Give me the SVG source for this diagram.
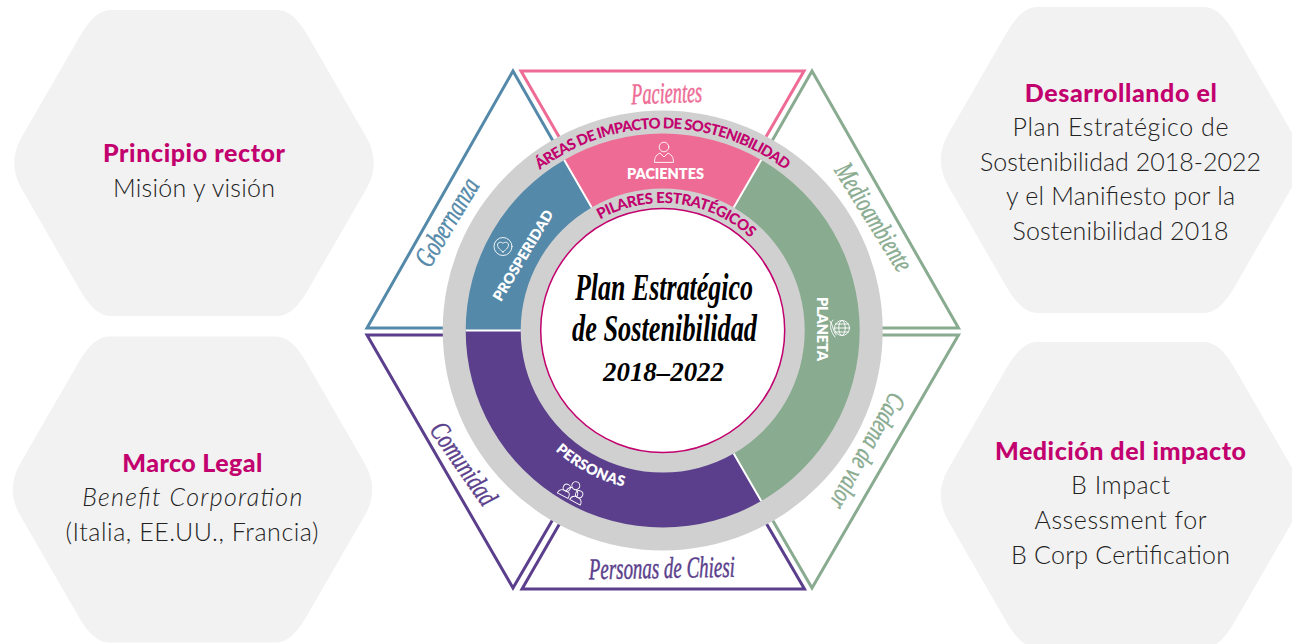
<svg xmlns="http://www.w3.org/2000/svg" width="1292" height="644" viewBox="0 0 1292 644">
<style>
.hex{fill:#f2f2f2}
.h{font-family:"Lato","Liberation Sans",sans-serif;font-weight:900;font-size:25px;fill:#c2006e;text-anchor:middle}
.b{font-family:"Lato","Liberation Sans",sans-serif;font-weight:300;font-size:25px;fill:#222;text-anchor:middle}
.tri{fill:#fff;stroke-width:3;stroke-linejoin:miter}
.s{font-family:"Liberation Serif",serif;font-style:italic;text-anchor:middle;stroke-width:.5}
.l{font-family:"Lato","Liberation Sans",sans-serif;font-weight:800;font-size:14.5px;fill:#fff;text-anchor:middle}
.arc{font-family:"Lato","Liberation Sans",sans-serif;font-weight:900;fill:#c2006e;text-anchor:middle}
.div{stroke:#fff;stroke-width:2;fill:none}
.ic{fill:none;stroke:#fff;stroke-width:.9;stroke-linejoin:round;stroke-linecap:round}
.t{font-family:"Liberation Serif",serif;font-style:italic;font-weight:700;fill:#000;text-anchor:middle}
</style>
<defs>
<path id="hx" d="M-84,-153 L84,-153 Q99,-153 114,-127 L172.25,-26 Q187.25,0 172.25,26 L114,127 Q99,153 84,153 L-84,153 Q-99,153 -114,127 L-172.25,26 Q-187.25,0 -172.25,-26 L-114,-127 Q-99,-153 -84,-153 Z"/>
<path id="arcAreas" d="M487.7,229.5 A202 202 0 0 1 837.7,229.5"/>
<path id="arcPilares" d="M560.9,253.8 A127.5 127.5 0 0 1 780.1,280.7"/>
<path id="arcPersonas" d="M513.4,390.8 A161 161 0 0 0 696.2,488"/>
</defs>

<g id="hex-principio">
<use href="#hx" x="194" y="163" class="hex"/>
<text class="h" x="194" y="162" textLength="182">Principio rector</text>
<text class="b" x="194" y="197" textLength="162">Misión y visión</text>
</g>
<g id="hex-marco">
<use href="#hx" x="192.5" y="489.5" class="hex"/>
<text class="h" x="192.3" y="472" textLength="140">Marco Legal</text>
<text class="b" x="192.3" y="506" font-style="italic" textLength="220">Benefit Corporation</text>
<text class="b" x="192" y="541" textLength="253">(Italia, EE.UU., Francia)</text>
</g>
<g id="hex-desarrollando">
<use href="#hx" x="1120.5" y="160" class="hex"/>
<text class="h" x="1120.8" y="102" textLength="192">Desarrollando el</text>
<text class="b" x="1120.5" y="136" textLength="216">Plan Estratégico de</text>
<text class="b" x="1120.5" y="171" textLength="281">Sostenibilidad 2018-2022</text>
<text class="b" x="1120.5" y="205" textLength="229">y el Manifiesto por la</text>
<text class="b" x="1120.5" y="240" textLength="216">Sostenibilidad 2018</text>
</g>
<g id="hex-medicion">
<use href="#hx" x="1120.5" y="495" class="hex"/>
<text class="h" x="1120.5" y="460" textLength="251">Medición del impacto</text>
<text class="b" x="1120.5" y="494" textLength="99">B Impact</text>
<text class="b" x="1120.5" y="529" textLength="172">Assessment for</text>
<text class="b" x="1120.5" y="564" textLength="219">B Corp Certification</text>
</g>

<g id="triangles">
<g id="tri-gobernanza">
<polygon class="tri" stroke="#5489a9" points="513,71 367,328 660,328"/>
<text class="s" fill="#5489a9" stroke="#5489a9" font-size="29" transform="translate(455,227) rotate(-59)" textLength="98" lengthAdjust="spacingAndGlyphs">Gobernanza</text>
</g>
<g id="tri-pacientes">
<polygon class="tri" stroke="#ee6b95" points="521,71 804,71 662.5,316"/>
<text class="s" fill="#ee6b95" stroke="#ee6b95" font-size="30" transform="translate(667,103) rotate(-2)" textLength="71" lengthAdjust="spacingAndGlyphs">Pacientes</text>
</g>
<g id="tri-medioambiente">
<polygon class="tri" stroke="#89ab90" points="812,71 958.5,328 665,328"/>
<text class="s" fill="#89ab90" stroke="#89ab90" font-size="28" transform="translate(866,222) rotate(58)" textLength="122" lengthAdjust="spacingAndGlyphs">Medioambiente</text>
</g>
<g id="tri-cadena">
<polygon class="tri" stroke="#89ab90" points="958.5,335 812,588 665,335"/>
<text class="s" fill="#89ab90" stroke="#89ab90" font-size="27" transform="translate(860,447) rotate(119)" textLength="128" lengthAdjust="spacingAndGlyphs">Cadena de valor</text>
</g>
<g id="tri-personas">
<polygon class="tri" stroke="#5b3f8c" points="522,589 804.5,589 662.5,345"/>
<text class="s" fill="#5b3f8c" stroke="#5b3f8c" font-size="30" transform="translate(662,578) rotate(-1)" textLength="146" lengthAdjust="spacingAndGlyphs">Personas de Chiesi</text>
</g>
<g id="tri-comunidad">
<polygon class="tri" stroke="#5b3f8c" points="367,335 513,588 660,335"/>
<text class="s" fill="#5b3f8c" stroke="#5b3f8c" font-size="28" transform="translate(456,469) rotate(55)" textLength="95" lengthAdjust="spacingAndGlyphs">Comunidad</text>
</g>
</g>

<g id="wheel">
<circle cx="662.7" cy="330.5" r="220" fill="#d0d0d0"/>
<g id="seg-pacientes">
<path fill="#ee6b95" d="M564.2,159.9 A197 197 0 0 1 761.2,159.9 L733.7,207.5 A142 142 0 0 0 591.7,207.5 Z"/>
<circle class="ic" cx="664" cy="147" r="4.8"/>
<path class="ic" d="M654.5,162 C654.5,156.5 657,154.5 660,153 L664,157 L668,153 C671,154.5 673.5,156.5 673.5,162 Z"/>
<text class="l" x="665.5" y="179" textLength="77">PACIENTES</text>
</g>
<g id="seg-planeta">
<path fill="#89ab90" d="M761.2,159.9 A197 197 0 0 1 761.2,501.1 L733.7,453.5 A142 142 0 0 0 733.7,207.5 Z"/>
<text class="l" transform="translate(817,329) rotate(90)" textLength="64">PLANETA</text>
<circle class="ic" cx="842" cy="328" r="7.5"/>
<ellipse class="ic" cx="842" cy="328" rx="3.2" ry="7.5"/>
<path class="ic" d="M834.5,328 H849.5 M835.5,324 H848.5 M835.5,332 H848.5 M830,321 C833,325 833,331 836,335 M833,320 C829,324 830,331 835,337"/>
</g>
<g id="seg-personas">
<path fill="#5b3f8c" d="M761.2,501.1 A197 197 0 0 1 465.7,330.5 L520.7,330.5 A142 142 0 0 0 733.7,453.5 Z"/>
<text class="l"><textPath href="#arcPersonas" startOffset="50%" textLength="78">PERSONAS</textPath></text>
<g class="ic" transform="translate(573,491) rotate(28)">
<circle cx="0" cy="-6" r="4"/>
<path d="M-6,3 C-6,-1 -4,-2 -2.5,-2.5 M2.5,-2.5 C4,-2 6,-1 6,3"/>
<circle cx="-7" cy="0" r="3.6"/>
<path d="M-13,9 C-13,5 -11,4 -9,3.5 L-3,3.5 C-1,4 -1,6 -1,9 Z"/>
<circle cx="7" cy="0" r="3.6"/>
<path d="M1,9 C1,5 3,4 5,3.5 L9,3.5 C11,4 13,5 13,9 Z"/>
</g>
</g>
<g id="seg-prosperidad">
<path fill="#5489a9" d="M465.7,330.5 A197 197 0 0 1 564.2,159.9 L591.7,207.5 A142 142 0 0 0 520.7,330.5 Z"/>
<text class="l" transform="translate(527.5,258) rotate(-59)" textLength="103">PROSPERIDAD</text>
<circle class="ic" cx="503" cy="246.5" r="9"/>
<path class="ic" d="M503,252 C499,249 497.5,247 497.5,245 C497.5,242 501.5,241.5 503,243.5 C504.5,241.5 508.5,242 508.5,245 C508.5,247 507,249 503,252 Z"/>
</g>
<path class="div" d="M564.2,159.9 L591.7,207.5 M761.2,159.9 L733.7,207.5 M761.2,501.1 L733.7,453.5 M465.7,330.5 H520.7"/>
<text class="arc" font-size="14.8"><textPath href="#arcAreas" startOffset="50%" textLength="264">ÁREAS DE IMPACTO DE SOSTENIBILIDAD</textPath></text>
<circle cx="662.7" cy="330.5" r="122" fill="#fff" stroke="#c2006e" stroke-width="1.5"/>
<text class="arc" font-size="15"><textPath href="#arcPilares" startOffset="50%" textLength="162">PILARES ESTRATÉGICOS</textPath></text>
</g>

<g id="center-title">
<text class="t" x="664" y="300" font-size="38" textLength="178" lengthAdjust="spacingAndGlyphs">Plan Estratégico</text>
<text class="t" x="664.5" y="341" font-size="38" textLength="185" lengthAdjust="spacingAndGlyphs">de Sostenibilidad</text>
<text class="t" x="663.5" y="381" font-size="28" textLength="121" lengthAdjust="spacingAndGlyphs">2018–2022</text>
</g>
</svg>
